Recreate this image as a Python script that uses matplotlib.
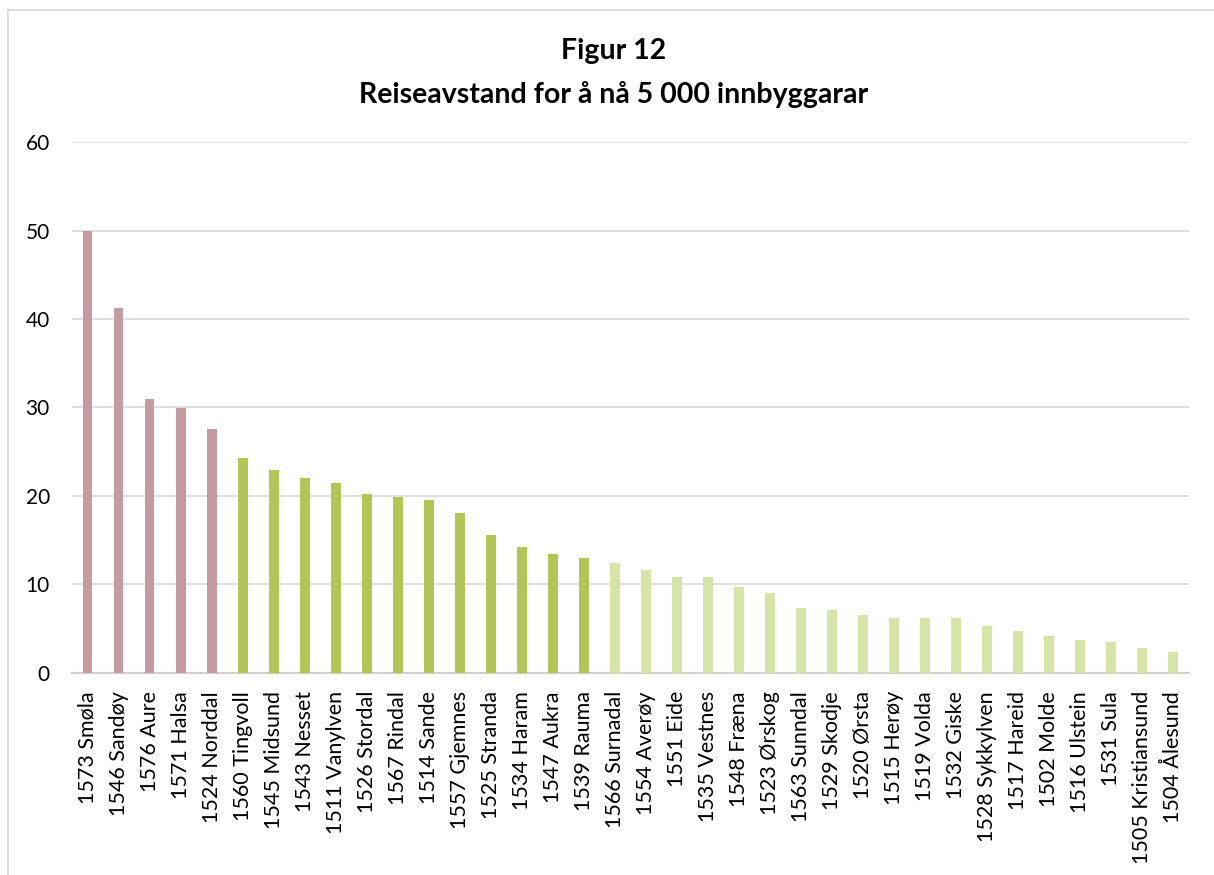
import matplotlib
matplotlib.use("Agg")
import matplotlib.pyplot as plt
from matplotlib.lines import Line2D

plt.rcParams['font.family'] = ['Lato', 'DejaVu Sans']

categories = ["1573 Smøla", "1546 Sandøy", "1576 Aure", "1571 Halsa", "1524 Norddal",
              "1560 Tingvoll", "1545 Midsund", "1543 Nesset", "1511 Vanylven", "1526 Stordal",
              "1567 Rindal", "1514 Sande", "1557 Gjemnes", "1525 Stranda", "1534 Haram",
              "1547 Aukra", "1539 Rauma", "1566 Surnadal", "1554 Averøy", "1551 Eide",
              "1535 Vestnes", "1548 Fræna", "1523 Ørskog", "1563 Sunndal", "1529 Skodje",
              "1520 Ørsta", "1515 Herøy", "1519 Volda", "1532 Giske", "1528 Sykkylven",
              "1517 Hareid", "1502 Molde", "1516 Ulstein", "1531 Sula", "1505 Kristiansund",
              "1504 Ålesund"]
values = [49.9, 41.2, 31.0, 29.9, 27.6,
          24.3, 22.9, 22.0, 21.5, 20.2,
          19.9, 19.5, 18.1, 15.6, 14.2,
          13.4, 13.0, 12.4, 11.6, 10.8,
          10.8, 9.7, 9.0, 7.3, 7.1,
          6.6, 6.2, 6.2, 6.2, 5.3,
          4.7, 4.2, 3.7, 3.5, 2.8,
          2.4]
groups = [0]*5 + [1]*12 + [2]*19
group_colors = ["#C49BA1", "#B4C557", "#D6E4A8"]
yticks = [0, 10, 20, 30, 40, 50, 60]

fig = plt.figure(figsize=(12.14, 8.75), dpi=100)
ax = fig.add_axes([0.0593, 0.2309, 0.9197, 0.6068])

x = list(range(len(categories)))
ax.bar(x, values, width=0.32, color=[group_colors[g] for g in groups], zorder=3)
ax.set_xlim(-0.5, len(categories) - 0.5)
ax.set_ylim(0, 60)
ax.set_yticks(yticks)
ax.set_yticklabels([str(t) for t in yticks], fontsize=15)
ax.set_xticks(x)
ax.set_xticklabels(categories, rotation=90, fontsize=15.5)
ax.tick_params(axis='both', length=0, colors='black')
ax.tick_params(axis='y', pad=16)
ax.tick_params(axis='x', pad=13)
ax.grid(axis='y', color='#D9D9D9', linewidth=1.2, zorder=0)
for s in ['top', 'right', 'left']:
    ax.spines[s].set_visible(False)
ax.spines['bottom'].set_color('#D0D0D0')
ax.spines['bottom'].set_linewidth(1.5)

fig.text(0.505, 0.942, "Figur 12", ha='center', va='center', fontsize=20.5, fontweight='bold')
fig.text(0.505, 0.892, "Reiseavstand for å nå 5 000 innbyggarar", ha='center', va='center',
         fontsize=20.5, fontweight='bold')

fig.add_artist(Line2D([8/1214, 1.0], [1 - 10/875, 1 - 10/875], transform=fig.transFigure,
                      color='#D9D9D9', linewidth=1.2))
fig.add_artist(Line2D([8/1214, 8/1214], [0, 1 - 10/875], transform=fig.transFigure,
                      color='#D9D9D9', linewidth=1.2))

fig.savefig("out.png", dpi=100, facecolor='white')
